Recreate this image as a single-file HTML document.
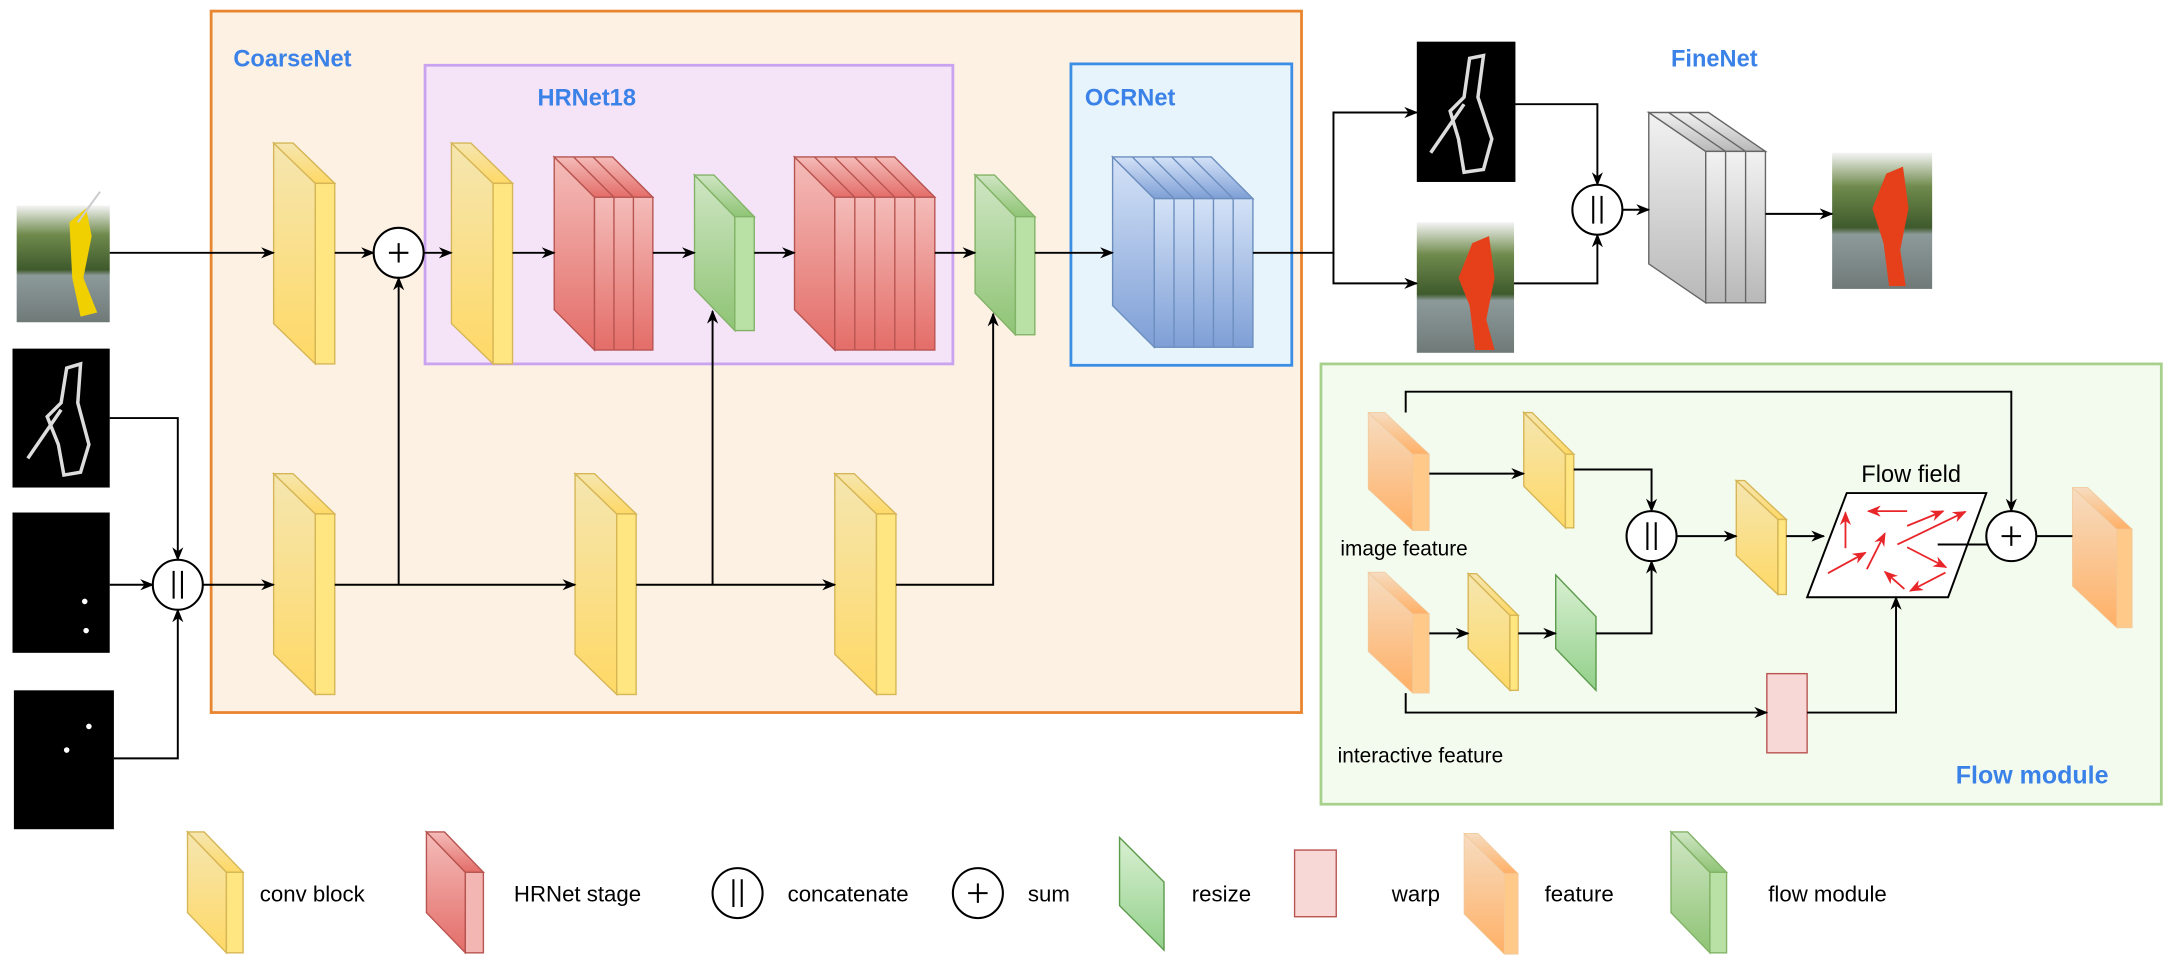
<!DOCTYPE html>
<html><head><meta charset="utf-8"><style>
html,body{margin:0;padding:0;background:#fff;}
svg{display:block;}
text{font-family:"Liberation Sans",sans-serif;}
</style></head><body>
<svg width="2178" height="962" viewBox="0 0 1568 692.6" preserveAspectRatio="none" xmlns="http://www.w3.org/2000/svg">
<defs>
<marker id="a" markerWidth="10" markerHeight="8" refX="9" refY="4" orient="auto" markerUnits="userSpaceOnUse"><path d="M0,0 L10,4 L0,8 L3,4 z" fill="#000"/></marker>
<marker id="r" markerWidth="10" markerHeight="8" refX="9" refY="4" orient="auto" markerUnits="userSpaceOnUse"><path d="M0,0 L10,4 L0,8 L3,4 z" fill="#e8262a"/></marker>
<linearGradient id="gy" x1="0" y1="0" x2="0" y2="1"><stop offset="0" stop-color="#f5e6b0"/><stop offset="1" stop-color="#ffd966"/></linearGradient>
<linearGradient id="gr" x1="0" y1="0" x2="0" y2="1"><stop offset="0" stop-color="#f4bcb9"/><stop offset="1" stop-color="#e46d68"/></linearGradient>
<linearGradient id="gg" x1="0" y1="0" x2="0" y2="1"><stop offset="0" stop-color="#cfe6c4"/><stop offset="1" stop-color="#8fc475"/></linearGradient>
<linearGradient id="gb" x1="0" y1="0" x2="0" y2="1"><stop offset="0" stop-color="#d4e2f7"/><stop offset="1" stop-color="#7e9fd6"/></linearGradient>
<linearGradient id="gs" x1="0" y1="0" x2="0" y2="1"><stop offset="0" stop-color="#f2f2f2"/><stop offset="1" stop-color="#b8b8b8"/></linearGradient>
<linearGradient id="go" x1="0" y1="0" x2="0" y2="1"><stop offset="0" stop-color="#f6dcc0"/><stop offset="1" stop-color="#ffb066"/></linearGradient>
<linearGradient id="grs" x1="0" y1="0" x2="0" y2="1"><stop offset="0" stop-color="#d9f0d2"/><stop offset="1" stop-color="#92d08a"/></linearGradient>
<linearGradient id="photo" x1="0" y1="0" x2="0" y2="1"><stop offset="0" stop-color="#f4f4f4"/><stop offset="0.25" stop-color="#6f8a4c"/><stop offset="0.55" stop-color="#3f5a2c"/><stop offset="0.6" stop-color="#8d9a9a"/><stop offset="1" stop-color="#6f7a78"/></linearGradient>
</defs>

<rect x="152" y="8" width="785" height="505" fill="#fdf1e3" stroke="#e8852e" stroke-width="2"/>
<text x="168" y="48" fill="#3b82e8" font-weight="bold" font-size="17">CoarseNet</text>
<rect x="306" y="47" width="380" height="215" fill="#f5e4f8" stroke="#c9a3f0" stroke-width="2"/>
<text x="387" y="76" fill="#3b82e8" font-weight="bold" font-size="17">HRNet18</text>
<rect x="771" y="46" width="159" height="217" fill="#e8f4fc" stroke="#3a8ee6" stroke-width="2"/>
<text x="781" y="76" fill="#3b82e8" font-weight="bold" font-size="17">OCRNet</text>
<text x="1203" y="48" fill="#3b82e8" font-weight="bold" font-size="17">FineNet</text>
<rect x="951" y="262" width="605" height="317" fill="#f3fbee" stroke="#a8d08d" stroke-width="2"/>
<text x="1408" y="564" fill="#3b82e8" font-weight="bold" font-size="18">Flow module</text>

<rect x="12" y="148" width="67" height="84" fill="url(#photo)"/>
<path d="M50,160 L62,150 L66,170 L60,200 L70,225 L58,228 L52,200 Z" fill="#f0d000"/>
<path d="M56,160 L72,138" stroke="#ccc" stroke-width="1.5"/>
<rect x="9" y="251" width="70" height="100" fill="#000"/>
<path d="M48,265 L58,262 L56,290 L64,320 L58,340 L46,342 L42,320 L34,300 L44,290 Z M20,330 L44,295" fill="none" stroke="#ddd" stroke-width="2.5"/>
<rect x="9" y="369" width="70" height="101" fill="#000"/>
<circle cx="61" cy="433" r="2" fill="#fff"/><circle cx="62" cy="454" r="2" fill="#fff"/>
<rect x="10" y="497" width="72" height="100" fill="#000"/>
<circle cx="64" cy="523" r="2" fill="#fff"/><circle cx="48" cy="540" r="2" fill="#fff"/>

<rect x="1020" y="30" width="71" height="101" fill="#000"/>
<path d="M1058,42 L1068,40 L1064,70 L1074,100 L1068,122 L1054,124 L1050,100 L1044,80 L1054,70 Z M1030,110 L1054,75" fill="none" stroke="#ddd" stroke-width="2.5"/>
<rect x="1020" y="160" width="70" height="94" fill="url(#photo)"/>
<path d="M1060,175 L1072,170 L1076,200 L1070,230 L1076,252 L1062,252 L1058,220 L1050,200 Z" fill="#e6401a"/>
<rect x="1319" y="110" width="72" height="98" fill="url(#photo)"/>
<path d="M1358,125 L1370,120 L1374,150 L1368,180 L1372,206 L1360,206 L1356,175 L1348,150 Z" fill="#e6401a"/>

<g stroke="#d6b656" stroke-width="1" fill="url(#gy)">
<polygon points="197,103 227,132 227,262 197,233"/><polygon points="197,103 211,103 241,132 227,132"/><rect x="227" y="132" width="14" height="130" fill="#ffe680"/>
<polygon points="325,103 355,132 355,262 325,233"/><polygon points="325,103 339,103 369,132 355,132"/><rect x="355" y="132" width="14" height="130" fill="#ffe680"/>
<polygon points="197,341 227,370 227,500 197,471"/><polygon points="197,341 211,341 241,370 227,370"/><rect x="227" y="370" width="14" height="130" fill="#ffe680"/>
<polygon points="414,341 444,370 444,500 414,471"/><polygon points="414,341 428,341 458,370 444,370"/><rect x="444" y="370" width="14" height="130" fill="#ffe680"/>
<polygon points="601,341 631,370 631,500 601,471"/><polygon points="601,341 615,341 645,370 631,370"/><rect x="631" y="370" width="14" height="130" fill="#ffe680"/>
</g>
<g stroke="#b85450" stroke-width="1" fill="url(#gr)">
<polygon points="399,113 428,142 428,252 399,223"/><polygon points="399,113 441,113 470,142 428,142"/><rect x="428" y="142" width="42" height="110"/>
<path d="M442,142V252M456,142V252M413,113L442,142M427,113L456,142" fill="none"/>
<polygon points="572,113 601,142 601,252 572,223"/><polygon points="572,113 644,113 673,142 601,142"/><rect x="601" y="142" width="72" height="110"/>
<path d="M615.4,142V252M629.8,142V252M644.2,142V252M658.6,142V252M586.4,113L615.4,142M600.8,113L629.8,142M615.2,113L644.2,142M629.6,113L658.6,142" fill="none"/>
</g>
<g stroke="#82b366" stroke-width="1" fill="url(#gg)">
<polygon points="500,126 529,156 529,238 500,208"/><polygon points="500,126 514,126 543,156 529,156"/><rect x="529" y="156" width="14" height="82" fill="#b9e0a5"/>
<polygon points="702,126 731,156 731,241 702,211"/><polygon points="702,126 716,126 745,156 731,156"/><rect x="731" y="156" width="14" height="85" fill="#b9e0a5"/>
</g>
<g stroke="#6c8ebf" stroke-width="1" fill="url(#gb)">
<polygon points="801,113 831,143 831,250 801,220"/><polygon points="801,113 872,113 902,143 831,143"/><rect x="831" y="143" width="71" height="107"/>
<path d="M845.2,143V250M859.4,143V250M873.6,143V250M887.8,143V250M815.2,113L845.2,143M829.4,113L859.4,143M843.6,113L873.6,143M857.8,113L887.8,143" fill="none"/>
</g>
<g stroke="#666" stroke-width="1" fill="url(#gs)">
<polygon points="1187,81 1228,109 1228,218 1187,190"/><polygon points="1187,81 1230,81 1271,109 1228,109"/><rect x="1228" y="109" width="43" height="109"/>
<path d="M1242.3,109V218M1256.7,109V218M1201.3,81L1242.3,109M1215.7,81L1256.7,109" fill="none"/>
</g>

<g fill="#fff" stroke="#000" stroke-width="1.5">
<circle cx="287" cy="182" r="18"/><circle cx="128" cy="421" r="18"/><circle cx="1150" cy="151" r="18"/>
<circle cx="1189" cy="386" r="18"/><circle cx="1448" cy="386" r="18"/>
</g>
<g stroke="#000" stroke-width="1.5">
<path d="M280,182H294M287,175V189M1441,386H1455M1448,379V393"/>
<path d="M125,411V431M131,411V431M1147,141V161M1153,141V161M1186,376V396M1192,376V396"/>
</g>

<g stroke="#000" stroke-width="1.4" fill="none" marker-end="url(#a)">
<path d="M79,182H197"/><path d="M241,182H269"/><path d="M305,182H325"/><path d="M369,182H399"/>
<path d="M470,182H500"/><path d="M543,182H572"/><path d="M673,182H702"/><path d="M745,182H801"/>
<path d="M79,301H128V403"/><path d="M79,421H110"/><path d="M82,546H128V439"/><path d="M146,421H197"/>
<path d="M241,421H414"/><path d="M287,421V200"/><path d="M458,421H601"/><path d="M513,421V224"/><path d="M645,421H715V226"/>
<path d="M902,182H960V81H1020"/><path d="M960,182V204H1020"/>
<path d="M1091,75H1150V133"/><path d="M1090,204H1150V169"/><path d="M1168,151H1187"/><path d="M1271,154H1319"/>
</g>

<g fill="url(#go)" stroke="#f0c89a" stroke-width="0.5">
<polygon points="985,297 1017,327 1017,382 985,352"/><polygon points="985,297 997,297 1029,327 1017,327"/><rect x="1017" y="327" width="12" height="55" fill="#ffc98a"/>
<polygon points="985,412 1017,442 1017,499 985,469"/><polygon points="985,412 997,412 1029,442 1017,442"/><rect x="1017" y="442" width="12" height="57" fill="#ffc98a"/>
<polygon points="1492,351 1524,381 1524,452 1492,422"/><polygon points="1492,351 1503,351 1535,381 1524,381"/><rect x="1524" y="381" width="11" height="71" fill="#ffc98a"/>
</g>
<g stroke="#d6b656" stroke-width="1" fill="url(#gy)">
<polygon points="1097,297 1127,327 1127,380 1097,350"/><polygon points="1097,297 1103,297 1133,327 1127,327"/><rect x="1127" y="327" width="6" height="53" fill="#ffe680"/>
<polygon points="1057,413 1087,443 1087,497 1057,467"/><polygon points="1057,413 1063,413 1093,443 1087,443"/><rect x="1087" y="443" width="6" height="54" fill="#ffe680"/>
<polygon points="1250,346 1280,374 1280,428 1250,400"/><polygon points="1250,346 1256,346 1286,374 1280,374"/><rect x="1280" y="374" width="6" height="54" fill="#ffe680"/>
</g>
<polygon points="1120,414 1149,444 1149,497 1120,467" fill="url(#grs)" stroke="#5a9a4a" stroke-width="1"/>
<rect x="1272" y="485" width="29" height="57" fill="#f8d7d7" stroke="#b85450" stroke-width="1"/>
<polygon points="1329.5,355 1430,355 1402.5,430 1301,430" fill="#fff" stroke="#000" stroke-width="1.4"/>
<text x="1340" y="347" font-size="17">Flow field</text>
<g stroke="#e8262a" stroke-width="1.3" marker-end="url(#r)">
<path d="M1373,368H1345"/><path d="M1373,378.6L1399,368"/><path d="M1366,392L1415,368.4"/><path d="M1328.6,394.7V369"/>
<path d="M1316,412.7L1343,397.9"/><path d="M1344,409.8L1357,384"/><path d="M1373,394L1401,408.4"/><path d="M1400.6,412.2L1375.2,425.4"/><path d="M1371,424L1357,411.7"/>
</g>
<g stroke="#000" stroke-width="1.4" fill="none">
<path d="M1012,297V282H1448V368" marker-end="url(#a)"/>
<path d="M1029,341H1097" marker-end="url(#a)"/>
<path d="M1133,338H1189V368" marker-end="url(#a)"/>
<path d="M1029,456H1057" marker-end="url(#a)"/>
<path d="M1093,456H1120" marker-end="url(#a)"/>
<path d="M1149,456H1189V404" marker-end="url(#a)"/>
<path d="M1012,499V513H1272" marker-end="url(#a)"/>
<path d="M1301,513H1365V430" marker-end="url(#a)"/>
<path d="M1207,386H1250" marker-end="url(#a)"/>
<path d="M1286,386H1313" marker-end="url(#a)"/>
<path d="M1395,392H1431"/><path d="M1466,386H1492"/>
</g>
<text x="965" y="400" font-size="15">image feature</text>
<text x="963" y="549" font-size="15">interactive feature</text>

<g stroke="#d6b656" fill="url(#gy)"><polygon points="135,599 163,628 163,686 135,657"/><polygon points="135,599 147,599 175,628 163,628"/><rect x="163" y="628" width="12" height="58" fill="#ffe680"/></g>
<g stroke="#b85450" fill="url(#gr)"><polygon points="307,599 335,628 335,686 307,657"/><polygon points="307,599 320,599 348,628 335,628"/><rect x="335" y="628" width="13" height="58" fill="#f4b6b3"/></g>
<circle cx="531" cy="643" r="18" fill="#fff" stroke="#000" stroke-width="1.5"/><path d="M528,633V653M534,633V653" stroke="#000" stroke-width="1.5"/>
<circle cx="704" cy="643" r="18" fill="#fff" stroke="#000" stroke-width="1.5"/><path d="M697,643H711M704,636V650" stroke="#000" stroke-width="1.5"/>
<polygon points="806,603 838,635 838,684 806,652" fill="url(#grs)" stroke="#5a9a4a"/>
<rect x="932" y="612" width="30" height="48" fill="#f8d7d7" stroke="#b85450"/>
<g fill="url(#go)" stroke="#f0c89a" stroke-width="0.5"><polygon points="1054,600 1083,629 1083,687 1054,658"/><polygon points="1054,600 1064,600 1093,629 1083,629"/><rect x="1083" y="629" width="10" height="58" fill="#ffc98a"/></g>
<g stroke="#82b366" fill="url(#gg)"><polygon points="1203,599 1231,628 1231,686 1203,657"/><polygon points="1203,599 1215,599 1243,628 1231,628"/><rect x="1231" y="628" width="12" height="58" fill="#b9e0a5"/></g>
<g font-size="16">
<text x="187" y="649">conv block</text><text x="370" y="649">HRNet stage</text><text x="567" y="649">concatenate</text>
<text x="740" y="649">sum</text><text x="858" y="649">resize</text><text x="1002" y="649">warp</text>
<text x="1112" y="649">feature</text><text x="1273" y="649">flow module</text>
</g>
</svg>
</body></html>
